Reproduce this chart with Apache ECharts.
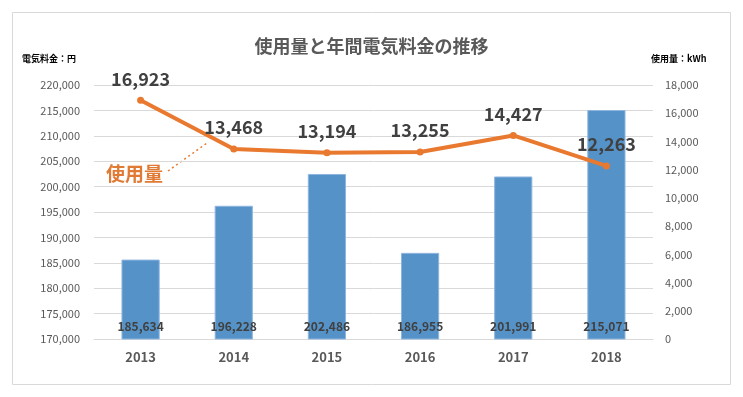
<!DOCTYPE html>
<html>
<head>
<meta charset="utf-8">
<script src="https://cdn.jsdelivr.net/npm/echarts@6/dist/echarts.min.js"></script>
<style>
  html, body { margin: 0; padding: 0; background: #fff; }
  #chart { width: 743px; height: 397px; }
</style>
</head>
<body>
<div id="chart"></div>
<script>
const YEARS = ['2013', '2014', '2015', '2016', '2017', '2018'];
const COST_YEN = [185634, 196228, 202486, 186955, 201991, 215071];
const USAGE_KWH = [16923, 13468, 13194, 13255, 14427, 12263];

const FONT = '"Noto Sans CJK JP", "Noto Sans", sans-serif';
const fmt = (v) => Number(v).toLocaleString('en-US');

const chart = echarts.init(document.getElementById('chart'), null, { renderer: 'canvas' });

chart.setOption({
  animation: false,
  textStyle: { fontFamily: FONT },
  title: {
    text: '使用量と年間電気料金の推移',
    left: 'center',
    top: 32,
    textStyle: { fontFamily: FONT, fontSize: 18, fontWeight: 'bold', color: '#595959' },
  },
  grid: { left: 94, right: 90, top: 85, bottom: 58 },
  xAxis: {
    type: 'category',
    data: YEARS,
    axisLine: { lineStyle: { color: '#d9d9d9' } },
    axisTick: { show: false },
    axisLabel: { color: '#595959', fontSize: 13, fontWeight: 'bold', margin: 12, fontFamily: FONT },
  },
  yAxis: [
    {
      type: 'value',
      min: 170000,
      max: 220000,
      interval: 5000,
      name: '電気料金：円',
      nameLocation: 'end',
      nameGap: 22,
      nameTextStyle: { color: '#000', fontSize: 9, fontWeight: 'bold', align: 'left', padding: [0, 0, 0, -72] },
      axisLine: { show: false },
      axisTick: { show: false },
      axisLabel: { color: '#595959', fontSize: 11, margin: 14, formatter: fmt },
      splitLine: { lineStyle: { color: '#d9d9d9' } },
    },
    {
      type: 'value',
      min: 0,
      max: 18000,
      interval: 2000,
      alignTicks: false,
      name: '使用量：kWh',
      nameLocation: 'end',
      nameGap: 22,
      nameTextStyle: { color: '#000', fontSize: 9, fontWeight: 'bold', align: 'left', padding: [0, 0, 0, -2] },
      axisLine: { show: false },
      axisTick: { show: false },
      axisLabel: { color: '#595959', fontSize: 11, margin: 12, formatter: fmt },
      splitLine: { show: false },
    },
  ],
  series: [
    {
      name: '電気料金',
      type: 'bar',
      data: COST_YEN,
      yAxisIndex: 0,
      barWidth: '41%',
      itemStyle: { color: '#5592c8', borderColor: '#8fb6df', borderWidth: 1 },
      label: {
        show: true,
        position: 'insideBottom',
        distance: 7,
        color: '#404040',
        fontSize: 12,
        fontWeight: 'bold',
        formatter: (p) => fmt(p.value),
      },
      z: 2,
    },
    {
      name: '使用量',
      type: 'line',
      data: USAGE_KWH,
      yAxisIndex: 1,
      symbol: 'circle',
      symbolSize: 7,
      lineStyle: { color: '#e8792f', width: 4 },
      itemStyle: { color: '#e8792f' },
      label: {
        show: true,
        position: 'top',
        distance: 9,
        color: '#404040',
        fontSize: 18,
        fontWeight: 'bold',
        formatter: (p) => fmt(p.value),
      },
      z: 3,
    },
  ],
  graphic: [
    {
      type: 'rect',
      shape: { x: 12.5, y: 12.5, width: 718, height: 372 },
      style: { fill: 'none', stroke: '#d9d9d9', lineWidth: 1 },
      silent: true,
    },
    {
      type: 'line',
      shape: { x1: 168, y1: 171, x2: 207, y2: 143 },
      style: { stroke: '#e8792f', lineWidth: 1.5, lineDash: [2, 3] },
      silent: true,
    },
    {
      type: 'text',
      left: 106,
      top: 164,
      style: { text: '使用量', fill: '#e07a35', font: 'bold 19px ' + FONT },
      silent: true,
    },
  ],
});
</script>
</body>
</html>
